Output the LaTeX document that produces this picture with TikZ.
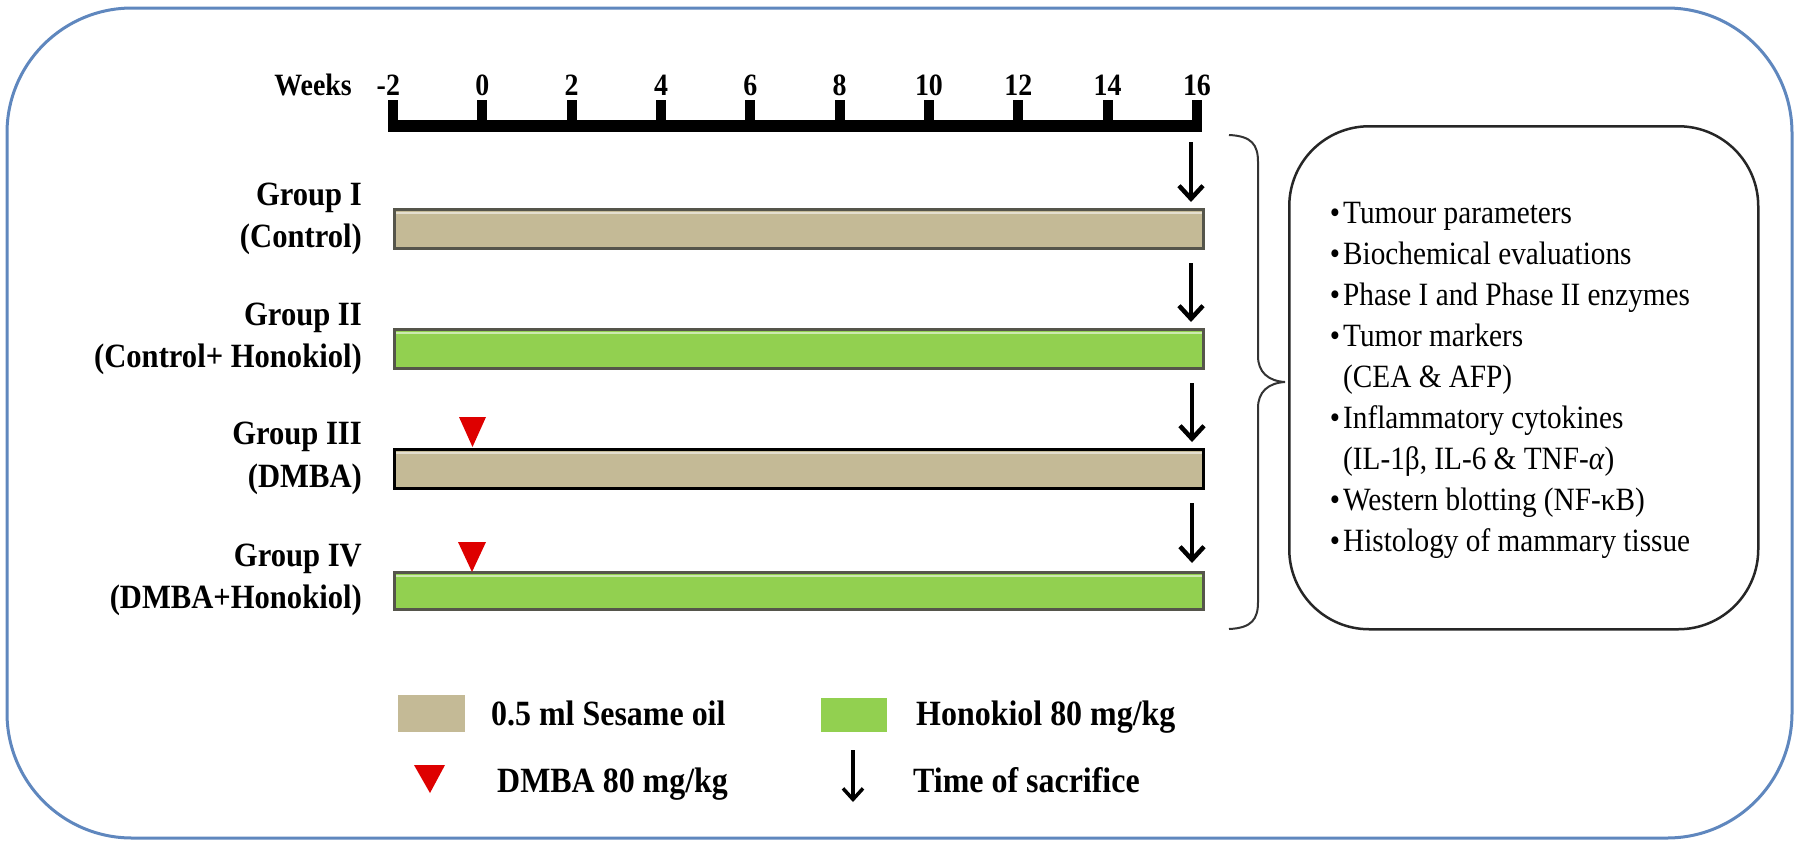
\documentclass[tikz,border=0pt]{standalone}
\usepackage{fontspec}
\setmainfont{Liberation Serif}[FakeStretch=0.9]
\usetikzlibrary{arrows.meta}
\definecolor{frameblue}{RGB}{95,135,190}
\definecolor{oiltan}{RGB}{196,186,150}
\definecolor{honogreen}{RGB}{146,208,80}
\definecolor{bargray}{RGB}{85,85,75}
\definecolor{dmbared}{RGB}{222,0,0}
\newcommand{\bul}{\llap{\textbullet\hspace{3pt}}}
\begin{document}
\begin{tikzpicture}[x=1pt,y=-1pt,
  grouplab/.style={font=\fontsize{34}{40}\selectfont\bfseries, inner sep=0pt, anchor=base east},
  weeklab/.style={font=\fontsize{31}{36}\selectfont\bfseries, inner sep=0pt, anchor=base},
  leglab/.style={font=\fontsize{35.5}{40}\selectfont\bfseries, inner sep=0pt, anchor=base west},
  reslab/.style={font=\fontsize{32.5}{40}\selectfont, inner sep=0pt, anchor=base west},
  barbox/.style={draw=bargray, line width=2.5pt, inner sep=0pt, minimum width=809pt, minimum height=39pt, anchor=north west},
  sac/.style={line width=4.5pt, -{Straight Barb[length=13pt,width=24pt]}},
  dmbatri/.style={fill=dmbared, draw=none},
]
\useasboundingbox (0,0) rectangle (1800,847);
% outer frame
\draw[frameblue, line width=3pt, fill=white, rounded corners=125pt] (7,8) rectangle (1792,838);

% timeline
\draw[line width=12pt] (388,126) -- (1202,126);
\foreach \i/\t in {0/{\llap{-}2},1/0,2/2,3/4,4/6,5/8,6/10,7/12,8/14,9/16}{
  \fill ({393+89.33*\i-5},100) rectangle ({393+89.33*\i+5},126);
  \node[weeklab] (t\i) at ({393+89.33*\i},95) {\t};
}
\node[grouplab, font=\fontsize{31}{40}\selectfont\bfseries] (weeks) at (352,95) {Weeks};

% bars
\node[barbox, fill=oiltan] (b1) at (393,208) {};
\node[barbox, fill=honogreen] (b2) at (393,328) {};
\node[barbox, fill=oiltan, draw=black] (b3) at (393,448) {};
\node[barbox, fill=honogreen, minimum height=37pt] (b4) at (393,571) {};
\foreach \b in {b1,b2,b3,b4}{
  \draw[white, opacity=0.55, line width=1.5pt] ([xshift=3pt,yshift=-5pt]\b.north west) -- ([xshift=-3pt,yshift=-5pt]\b.north east);
}

% group labels
\node[grouplab] (g1a) at (362,205) {Group I};
\node[grouplab] (g1b) at (362,247) {(Control)};
\node[grouplab] (g2a) at (362,325) {Group II};
\node[grouplab] (g2b) at (362,367) {(Control+ Honokiol)};
\node[grouplab] (g3a) at (362,444) {Group III};
\node[grouplab] (g3b) at (362,487) {(DMBA)};
\node[grouplab] (g4a) at (362,566) {Group IV};
\node[grouplab] (g4b) at (362,608) {(DMBA+Honokiol)};

% DMBA triangles
\fill[dmbatri] (459,417) -- (486,417) -- (472.5,447) -- cycle;
\fill[dmbatri] (458,542) -- (486,542) -- (472,572) -- cycle;

% sacrifice arrows
\coordinate (s1) at (1191,142);
\coordinate (s2) at (1191,263);
\coordinate (s3) at (1192,383);
\coordinate (s4) at (1192,503);
\draw[sac] (s1) -- ([yshift=6pt]b1.north -| s1);
\draw[sac] (s2) -- ([yshift=6pt]b2.north -| s2);
\draw[sac] (s3) -- ([yshift=6pt]b3.north -| s3);
\draw[sac] (s4) -- ([yshift=8pt]b4.north -| s4);

% brace
\draw[black!80, line width=2pt] (1229,135) .. controls (1252,136) and (1258,145) .. (1258,162)
  -- (1258,356) .. controls (1258,372) and (1268,381) .. (1285,382)
  .. controls (1268,383) and (1258,392) .. (1258,408)
  -- (1258,602) .. controls (1258,619) and (1252,628) .. (1229,629);

% results box
\node[draw=black!85, line width=2.5pt, rounded corners=80pt, minimum width=469pt, minimum height=503pt, anchor=north west, inner sep=0pt] (res) at (1288,125) {};
\node[reslab] (r1) at (1343,223) {\bul Tumour parameters};
\node[reslab] (r2) at (1343,264) {\bul Biochemical evaluations};
\node[reslab] (r3) at (1343,305) {\bul Phase I and Phase II enzymes};
\node[reslab] (r4) at (1343,346) {\bul Tumor markers};
\node[reslab] (r5) at (1343,387) {(CEA \& AFP)};
\node[reslab] (r6) at (1343,428) {\bul Inflammatory cytokines};
\node[reslab] (r7) at (1343,469) {(IL-1β, IL-6 \& TNF-\textit{α})};
\node[reslab] (r8) at (1343,510) {\bul Western blotting (NF-κB)};
\node[reslab] (r9) at (1343,551) {\bul Histology of mammary tissue};

% legend
\fill[oiltan] (398,695) rectangle (465,732);
\node[leglab] (l1) at (491,725) {0.5 ml Sesame oil};
\fill[honogreen] (821,698) rectangle (887,732);
\node[leglab] (l2) at (916,725) {Honokiol 80 mg/kg};
\fill[dmbatri] (414,765) -- (445,765) -- (430,793) -- cycle;
\node[leglab] (l3) at (497,792) {DMBA 80 mg/kg};
\coordinate (la) at (853,750);
\coordinate (lb) at (853,802);
\draw[line width=3.5pt, -{Straight Barb[length=11pt,width=20pt]}] (la) -- (lb);
\node[leglab] (l4) at (913,792) {Time of sacrifice};
\end{tikzpicture}
\end{document}
